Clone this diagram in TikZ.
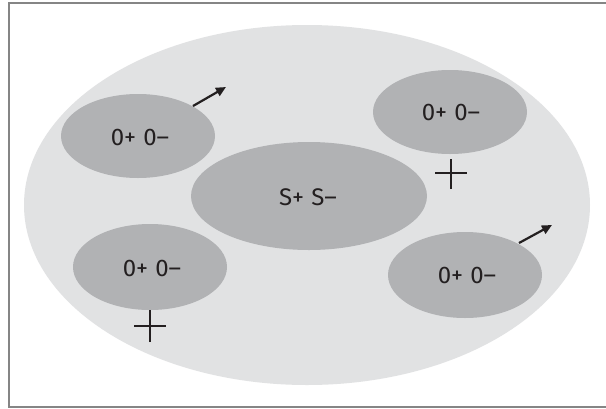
\documentclass[tikz,border=0pt]{standalone}
\usepackage{fontspec}
\setmainfont{Fira Sans}
\usetikzlibrary{arrows.meta}
\definecolor{outerc}{HTML}{E1E2E3}
\definecolor{innerc}{HTML}{B1B2B4}
\definecolor{framec}{HTML}{858585}
\definecolor{txtc}{HTML}{231F20}
\begin{document}
\begin{tikzpicture}[x=1pt,y=-1pt,
  blob/.style={fill=innerc,draw=none},
  lbl/.style={font=\fontsize{24}{28}\selectfont,text=txtc},
  arr/.style={line width=2.2pt,-{Triangle[length=10pt,width=9pt]},txtc},
  crossl/.style={line width=2pt,txtc}]
\useasboundingbox (0,0) rectangle (606,408);
\fill[white] (0,0) rectangle (606,408);
\draw[framec,line width=2pt] (9,407) -- (9,2.5) -- (607,2.5);
\draw[framec,line width=2pt] (8,407) -- (607,407);
\fill[outerc] (307,205) ellipse [x radius=283, y radius=180];
% small ellipses
\fill[blob] (138,136) ellipse [x radius=77, y radius=42];
\fill[blob] (450,112) ellipse [x radius=77, y radius=42];
\fill[blob] (309,196) ellipse [x radius=118, y radius=54];
\fill[blob] (150,267) ellipse [x radius=77, y radius=43];
\fill[blob] (465,275) ellipse [x radius=77, y radius=43];
\node[lbl] (tl) at (140,137) {0+\hspace{0.3em}0–};
\node[lbl] (tr) at (451,112) {0+\hspace{0.3em}0–};
\node[lbl] (c) at (308,197) {S+\hspace{0.3em}S–};
\node[lbl] (bl) at (152,268) {0+\hspace{0.3em}0–};
\node[lbl] (br) at (467,275) {0+\hspace{0.3em}0–};
% arrows
\coordinate (a1s) at (193,106); \coordinate (a1e) at (226,87);
\coordinate (a2s) at (519,243); \coordinate (a2e) at (552,225);
\draw[arr] (a1s) -- (a1e);
\draw[arr] (a2s) -- (a2e);
% crosses
\coordinate (x1) at (451,173);
\coordinate (x2) at (150,326);
\draw[crossl] ([xshift=-16]x1) -- ([xshift=16]x1);
\draw[crossl] ([yshift=-16]x1) -- ([yshift=14]x1);
\draw[crossl] ([xshift=-16]x2) -- ([xshift=16]x2);
\draw[crossl] ([yshift=-16]x2) -- ([yshift=16]x2);
\end{tikzpicture}
\end{document}
